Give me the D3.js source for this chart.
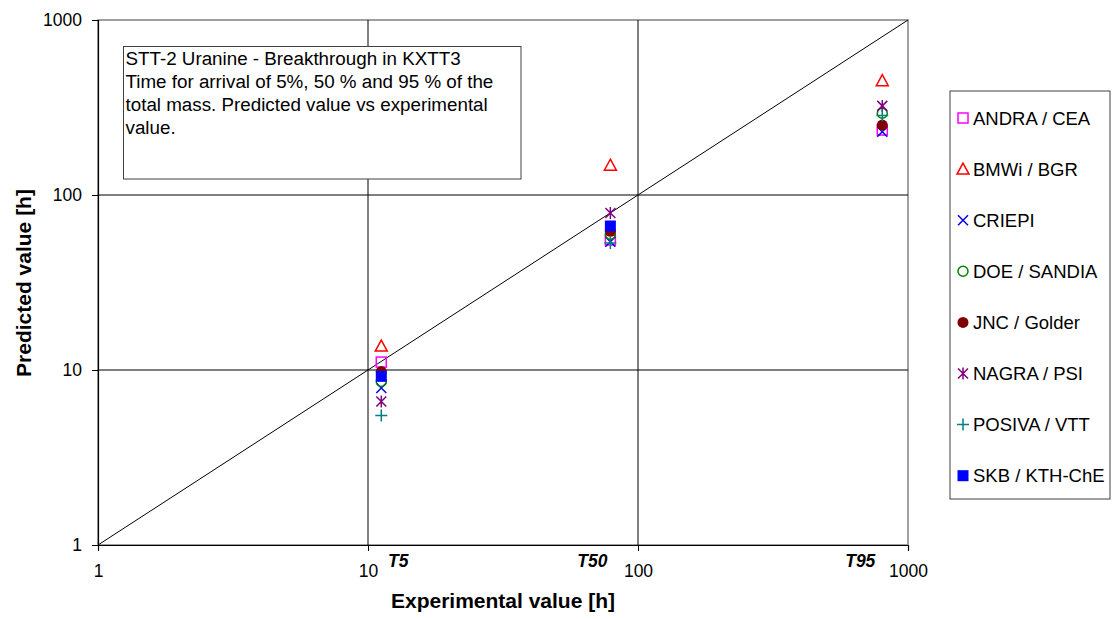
<!DOCTYPE html>
<html>
<head>
<meta charset="utf-8">
<script src="https://cdn.jsdelivr.net/npm/d3@7"></script>
<style>
  html, body { margin: 0; padding: 0; background: #fff; }
  svg { display: block; font-family: "Liberation Sans", Arial, sans-serif; }
</style>
</head>
<body>
<svg id="chart" width="1112" height="619"></svg>
<script>
// Experimental arrival times (h) for 5 %, 50 % and 95 % of the mass
const stages = ["T5", "T50", "T95"];
const experimental = [11.2, 79, 803];

// Predicted values per modelling team, in the order T5, T50, T95 (null = not reported)
const teams = ["ANDRA / CEA", "BMWi / BGR", "CRIEPI", "DOE / SANDIA", "JNC / Golder", "NAGRA / PSI", "POSIVA / VTT", "SKB / KTH-ChE"];
const andra  = [11.1, 55.3, 235];
const bmwi   = [13.7, 148, 450];
const criepi = [7.9, 54.1, 230];
const doe    = [8.6, 59.6, 293];
const jnc    = [9.8, 62, 251];
const nagra  = [6.6, 79, 323];
const posiva = [5.5, 53.2, 285];
const skb    = [9.2, 66.5, null];
const teamValues = [andra, bmwi, criepi, doe, jnc, nagra, posiva, skb];

const teamColors = ["#FF00FF", "#FF0000", "#0000FF", "#008000", "#800000", "#800080", "#008080", "#0000FF"];
const teamSymbols = ["square", "triangle", "cross", "circle", "dot", "star", "plus", "block"];

const axisTicks = [1, 10, 100, 1000];
const noteLines = [
  "STT-2 Uranine - Breakthrough in KXTT3",
  "Time for arrival of 5%, 50 % and 95 % of the",
  "total mass. Predicted value vs experimental",
  "value."
];

const svg = d3.select("#chart");
const plotL = 98, plotR = 908, plotT = 20, plotB = 545;

const x = d3.scaleLog().domain([1, 1000]).range([plotL, plotR]);
const y = d3.scaleLog().domain([1, 1000]).range([plotB, plotT]);

// plot area frame
svg.append("rect")
  .attr("x", plotL).attr("y", plotT)
  .attr("width", plotR - plotL).attr("height", plotB - plotT)
  .attr("fill", "none").attr("stroke", "#808080").attr("stroke-width", 1.5);

// grid lines at inner decades
const g = svg.append("g");
[10, 100].forEach(v => {
  g.append("line").attr("x1", x(v)).attr("x2", x(v)).attr("y1", plotT).attr("y2", plotB)
    .attr("stroke", "#000").attr("stroke-width", 1);
  g.append("line").attr("x1", plotL).attr("x2", plotR).attr("y1", y(v)).attr("y2", y(v))
    .attr("stroke", "#000").attr("stroke-width", 1);
});

// axes
const xAxis = d3.axisBottom(x).tickValues(axisTicks).tickFormat(d3.format("d")).tickSize(6).tickPadding(14);
const yAxis = d3.axisLeft(y).tickValues(axisTicks).tickFormat(d3.format("d")).tickSize(6).tickPadding(10);

const gx = svg.append("g").attr("transform", `translate(0,${plotB})`).call(xAxis);
const gy = svg.append("g").attr("transform", `translate(${plotL},0)`).call(yAxis);
[gx, gy].forEach(a => {
  a.select(".domain").attr("stroke", "#000").attr("stroke-width", 1.2);
  a.selectAll(".tick line").attr("stroke", "#000");
  a.selectAll(".tick text").attr("font-size", 17.5).attr("fill", "#000")
    .attr("font-family", "'Liberation Sans', Arial, sans-serif");
});

// 1:1 line
svg.append("line")
  .attr("x1", x(1)).attr("y1", y(1)).attr("x2", x(1000)).attr("y2", y(1000))
  .attr("stroke", "#000").attr("stroke-width", 1);

// marker drawing
function drawMarker(sel, type, color) {
  const s = 5;
  switch (type) {
    case "square":
      sel.append("rect").attr("x", -s).attr("y", -s).attr("width", 2 * s).attr("height", 2 * s)
        .attr("fill", "none").attr("stroke", color).attr("stroke-width", 1.5);
      break;
    case "block":
      sel.append("rect").attr("x", -s - 0.5).attr("y", -s - 0.5).attr("width", 2 * s + 1).attr("height", 2 * s + 1)
        .attr("fill", color);
      break;
    case "triangle":
      sel.append("path").attr("d", `M0,${-s - 1}L${s + 1},${s}L${-s - 1},${s}Z`)
        .attr("fill", "none").attr("stroke", color).attr("stroke-width", 1.5);
      break;
    case "cross":
      sel.append("path").attr("d", `M${-s},${-s}L${s},${s}M${-s},${s}L${s},${-s}`)
        .attr("stroke", color).attr("stroke-width", 1.5);
      break;
    case "circle":
      sel.append("circle").attr("r", s).attr("fill", "none").attr("stroke", color).attr("stroke-width", 1.5);
      break;
    case "dot":
      sel.append("circle").attr("r", s + 0.5).attr("fill", color);
      break;
    case "star":
      sel.append("path").attr("d", `M${-s},${-s}L${s},${s}M${-s},${s}L${s},${-s}M0,${-s - 1}L0,${s + 1}`)
        .attr("stroke", color).attr("stroke-width", 1.5);
      break;
    case "plus":
      sel.append("path").attr("d", `M${-s - 1},0L${s + 1},0M0,${-s - 1}L0,${s + 1}`)
        .attr("stroke", color).attr("stroke-width", 1.5);
      break;
  }
}

// data points
teams.forEach((t, i) => {
  teamValues[i].forEach((v, j) => {
    if (v == null) return;
    const m = svg.append("g").attr("transform", `translate(${x(experimental[j])},${y(v)})`);
    drawMarker(m, teamSymbols[i], teamColors[i]);
  });
});

// stage labels next to the experimental values
const stageOffsets = [17, -18, -22];
stages.forEach((s, j) => {
  svg.append("text")
    .attr("x", x(experimental[j]) + stageOffsets[j])
    .attr("y", 567)
    .attr("text-anchor", "middle")
    .attr("font-size", 17.5).attr("font-weight", "bold").attr("font-style", "italic")
    .text(s);
});

// axis titles
svg.append("text").attr("x", 503).attr("y", 608).attr("text-anchor", "middle")
  .attr("font-size", 21).attr("font-weight", "bold").text("Experimental value [h]");
svg.append("text").attr("transform", `translate(31,283) rotate(-90)`)
  .attr("text-anchor", "middle").attr("font-size", 21).attr("font-weight", "bold")
  .text("Predicted value [h]");

// note box
const note = svg.append("g");
note.append("rect").attr("x", 123.5).attr("y", 46.5).attr("width", 397.5).attr("height", 132.5)
  .attr("fill", "#fff").attr("stroke", "#404040").attr("stroke-width", 1);
noteLines.forEach((l, k) => {
  note.append("text").attr("x", 125.5).attr("y", 65 + k * 23).attr("font-size", 18.8).text(l);
});

// legend
const leg = svg.append("g");
leg.append("rect").attr("x", 950).attr("y", 91).attr("width", 160).attr("height", 408)
  .attr("fill", "#fff").attr("stroke", "#404040").attr("stroke-width", 1);
teams.forEach((t, i) => {
  const cy = 118 + i * 51.1;
  const m = leg.append("g").attr("transform", `translate(963,${cy})`);
  drawMarker(m, teamSymbols[i], teamColors[i]);
  leg.append("text").attr("x", 973).attr("y", cy).attr("dy", "0.36em")
    .attr("font-size", 18.5).text(t);
});
</script>
</body>
</html>
